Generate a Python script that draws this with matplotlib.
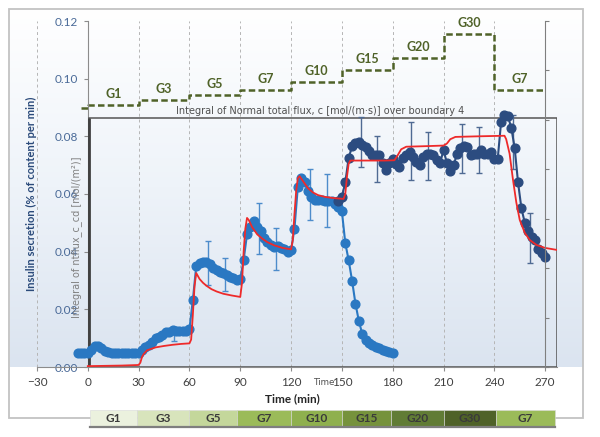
import numpy as np
import matplotlib.pyplot as plt
from matplotlib.patches import Rectangle
from matplotlib.colors import LinearSegmentedColormap

plt.rcParams['font.family'] = ['Lato', 'DejaVu Sans']

# light blue perifusion trace (sampled every 2 min)
t_light = np.arange(-6, 181, 2)
v_light = [
    0.0050, 0.0050, 0.0048, 0.0048,
    0.0060, 0.0072, 0.0073, 0.0065, 0.0057, 0.0052, 0.0050, 0.0050, 0.0050,
    0.0050, 0.0050, 0.0050, 0.0050, 0.0050, 0.0050,
    0.0058, 0.0068, 0.0075, 0.0088, 0.0100, 0.0105, 0.0112, 0.0120, 0.0122,
    0.0128, 0.0125, 0.0125, 0.0125, 0.0125, 0.0132,
    0.0232, 0.0350, 0.0362, 0.0365, 0.0365, 0.0358, 0.0345, 0.0335, 0.0330,
    0.0325, 0.0320, 0.0312, 0.0308, 0.0303, 0.0305,
    0.0372, 0.0460, 0.0485, 0.0505, 0.0485, 0.0470, 0.0448, 0.0432, 0.0422,
    0.0417, 0.0418, 0.0412, 0.0410, 0.0400, 0.0405,
    0.0480, 0.0625, 0.0655, 0.0640, 0.0610, 0.0590, 0.0580, 0.0578, 0.0578,
    0.0576, 0.0576, 0.0575, 0.0565, 0.0555, 0.0540,
    0.0430, 0.0370, 0.0300, 0.0220, 0.0160, 0.0115, 0.0095, 0.0082, 0.0075,
    0.0070, 0.0065, 0.0060, 0.0055, 0.0052, 0.0050,
]
err_light_t = [51, 71, 81, 101, 111, 131, 141]
err_light_v = [0.0115, 0.0360, 0.0321, 0.0480, 0.0409, 0.0598, 0.0578]
err_light_e = [0.0025, 0.0077, 0.0057, 0.0088, 0.0073, 0.0088, 0.0092]

# dark navy trace
t_dark = np.arange(148, 271, 2)
v_dark = [
    0.0575, 0.0590,
    0.0640, 0.0725, 0.0765, 0.0778, 0.0782, 0.0770, 0.0762, 0.0748, 0.0735,
    0.0735, 0.0736, 0.0708, 0.0684, 0.0708, 0.0722,
    0.0705, 0.0694, 0.0725, 0.0735, 0.0747, 0.0730, 0.0712, 0.0700, 0.0730,
    0.0740, 0.0738, 0.0736, 0.0718, 0.0708, 0.0752,
    0.0708, 0.0680, 0.0700, 0.0740, 0.0758, 0.0765, 0.0762, 0.0736, 0.0738,
    0.0740, 0.0752, 0.0738, 0.0740, 0.0747, 0.0720,
    0.0722, 0.0850, 0.0875, 0.0870, 0.0830, 0.0760, 0.0640, 0.0550, 0.0500,
    0.0470, 0.0450, 0.0440, 0.0410, 0.0395, 0.0380,
]
err_dark_t = [161, 171, 191, 201, 221, 231, 251, 261]
err_dark_v = [0.0780, 0.0720, 0.0750, 0.0733, 0.0758, 0.0753, 0.0780, 0.0447]
err_dark_e = [0.0087, 0.0080, 0.0100, 0.0083, 0.0085, 0.0080, 0.0095, 0.0087]

# model (red)
t_model = [0, 10, 20, 30, 31, 32, 33, 35, 40, 45, 50, 55, 60,
           61, 62, 63, 64, 66, 68, 70, 73, 76, 80, 85, 90,
           91, 92, 93, 94, 95, 97, 100, 103, 106, 110, 115, 120,
           121, 122, 123, 124, 125, 127, 130, 133, 136, 140, 145, 151,
           152, 153, 154, 155, 165, 175, 181, 183, 185, 188, 200, 210,
           212, 214, 217, 230, 246, 247, 249, 251, 253, 255, 258, 261,
           265, 270, 277]
v_model = [0.0003, 0.0004, 0.0005, 0.0007, 0.0015, 0.0035, 0.0045, 0.0058,
           0.0068, 0.0073, 0.0077, 0.0080, 0.0082,
           0.0095, 0.0180, 0.0280, 0.0326, 0.0305, 0.0292, 0.0282, 0.0270,
           0.0262, 0.0254, 0.0248, 0.0243,
           0.0290, 0.0400, 0.0480, 0.0517, 0.0510, 0.0485, 0.0460, 0.0445,
           0.0433, 0.0422, 0.0413, 0.0408,
           0.0440, 0.0530, 0.0610, 0.0655, 0.0662, 0.0645, 0.0620, 0.0605,
           0.0596, 0.0590, 0.0586, 0.0583,
           0.0600, 0.0660, 0.0705, 0.0716, 0.0716, 0.0716, 0.0717, 0.0735,
           0.0755, 0.0764, 0.0766, 0.0768,
           0.0775, 0.0790, 0.0798, 0.0800, 0.0802, 0.0790, 0.0740, 0.0650,
           0.0570, 0.0510, 0.0465, 0.0440,
           0.0423, 0.0413, 0.0406]

# glucose protocol (dashed step line)
step_t = [-4, 0, 30, 60, 90, 120, 150, 180, 210, 240, 270]
step_v = [0.0899, 0.0908, 0.0926, 0.0942, 0.0961, 0.0987, 0.1029, 0.1071,
          0.1156, 0.0961, 0.0961]
step_labels = ['G1', 'G3', 'G5', 'G7', 'G10', 'G15', 'G20', 'G30', 'G7']

# bottom colour bar
bar_labels = ['G1', 'G3', 'G5', 'G7', 'G10', 'G15', 'G20', 'G30', 'G7']
bar_edges = [1, 29, 60, 88, 120, 150, 179, 210, 241, 276]
bar_colors = ['#ebf1de', '#d8e4bc', '#c4d79b', '#9bbb59', '#8fb04e',
              '#76923c', '#617c35', '#4f6228', '#9bbb59']

W, H = 600, 437
fig = plt.figure(figsize=(W / 100, H / 100), dpi=100)

# gradient background + frame
bg = fig.add_axes([10 / W, (H - 367) / H, 573 / W, (367 - 9) / H], zorder=-2)
cmap = LinearSegmentedColormap.from_list('bg', ['#ffffff', '#eef3f9', '#dbe4f0'])
bg.imshow(np.linspace(0, 1, 256)[:, None], aspect='auto', cmap=cmap,
          extent=[0, 1, 0, 1], origin='upper')
bg.axis('off')
fig.add_artist(Rectangle((9 / W, (H - 418) / H), 574 / W, 409 / H,
                         transform=fig.transFigure, fill=False,
                         ec='#c3c3c3', lw=1.3, zorder=-1))

ax = fig.add_axes([37 / W, 70 / H, 520 / W, 346 / H])
ax.set_facecolor('none')
ax.set_xlim(-30, 277)
ax.set_ylim(0, 0.12)

ax.set_xticks(range(-30, 271, 30))
ax.set_yticks([0, 0.02, 0.04, 0.06, 0.08, 0.10, 0.12])
ax.set_yticklabels(['%.2f' % v for v in ax.get_yticks()])
ax.grid(axis='x', ls=(0, (3, 3)), color='#b5b5b5', lw=0.7)
ax.set_axisbelow(True)

for s in ['top', 'right']:
    ax.spines[s].set_visible(False)
ax.spines['left'].set_position(('data', 0))
ax.spines['left'].set_color('#8c8c8c')
ax.spines['bottom'].set_color('#8c8c8c')
ax.spines['bottom'].set_bounds(-30, 277)
ax.tick_params(axis='x', colors='#8c8c8c', labelcolor='#404040',
               labelsize=8.5, length=3, pad=4)
ax.tick_params(axis='y', colors='#8c8c8c', labelcolor='#4a6a98',
               labelsize=8.5, length=3, pad=4)

# right-hand auxiliary axis
ax2 = ax.twinx()
ax2.set_ylim(0, 7)
ax2.set_yticks(range(8))
ax2.set_yticklabels([])
for s in ['top', 'left', 'bottom']:
    ax2.spines[s].set_visible(False)
ax2.spines['right'].set_position(('data', 270))
ax2.spines['right'].set_color('#7f7f7f')
ax2.tick_params(axis='y', colors='#7f7f7f', length=3)

# glucose steps
ax.plot(step_t, step_v, drawstyle='steps-post', color='#4f6228', lw=1.8,
        ls=(0, (2.6, 1.3)), zorder=2)
for i, lab in enumerate(step_labels):
    mid = (step_t[i + 1] + step_t[i + 2]) / 2
    ax.text(mid, step_v[i + 1] + 0.0038, lab, color='#4f6228', fontsize=9,
            fontweight='bold', ha='center', va='center')

# inner model box
box_t0, box_t1, box_top = 0.6, 277, 0.0864
ax.add_patch(Rectangle((box_t0, 0), box_t1 - box_t0, box_top, fill=False,
                       ec='#555555', lw=1.1, zorder=3))
ax.vlines(box_t0, 0, box_top, color='#404040', lw=2, zorder=3)
ax.text(137, box_top + 0.0008,
        'Integral of Normal total flux, c [mol/(m\u00b7s)] over boundary 4',
        family='DejaVu Sans', fontsize=7, color='#505050',
        ha='center', va='bottom')
ax.text(-6.5, 0.045, 'Integral of ntflux_c_cd [mol/(m\u00b2)]',
        family='Liberation Sans Narrow', fontsize=7, color='#808080',
        rotation=90, ha='center', va='center')
ax.text(139, -0.0053, 'Time', family='DejaVu Sans', fontsize=6.3,
        color='#505050', ha='center', va='center', clip_on=False)

# data
c_light, c_dark = '#2a78c2', '#2c4c80'
ax.errorbar(err_light_t, err_light_v, yerr=err_light_e, fmt='none',
            ecolor='#4d8ccb', elinewidth=1, capsize=2.5, zorder=4)
ax.errorbar(err_dark_t, err_dark_v, yerr=err_dark_e, fmt='none',
            ecolor='#4f6a93', elinewidth=1, capsize=2.5, zorder=4)
ax.plot(t_light, v_light, color=c_light, lw=1.5, marker='o', ms=6.3,
        mec=c_light, zorder=5)
ax.plot(t_dark, v_dark, color=c_dark, lw=1.5, marker='o', ms=6.3,
        mec=c_dark, zorder=6)
ax.plot(t_model, v_model, color='#ee2a2a', lw=1.3, zorder=7)

ax.set_ylabel('Insulin secretion (% of content per min)', color='#2a4a7a',
              fontsize=8, fontweight='bold')
ax.yaxis.set_label_coords(0.0, 0.5)
fig.text(292 / W, (H - 399) / H, 'Time (min)', fontsize=8.5,
         fontweight='bold', color='#262626', ha='center', va='center')

# bottom bar
axb = fig.add_axes([37 / W, (H - 427) / H, 520 / W, 17 / H], zorder=1)
axb.set_xlim(-30, 277)
axb.set_ylim(0, 1)
axb.set_facecolor('none')
lefts = bar_edges[:-1]
widths = [b - a for a, b in zip(bar_edges[:-1], bar_edges[1:])]
axb.barh(0.5, widths, left=lefts, height=1, color=bar_colors,
         edgecolor='#d9d9d9', lw=0.4)
for x0, w, lab in zip(lefts, widths, bar_labels):
    axb.text(x0 + w / 2, 0.48, lab, ha='center', va='center', fontsize=8.5,
             fontweight='bold', color='#3a3a3a')
for s in ['top', 'left', 'right']:
    axb.spines[s].set_visible(False)
axb.spines['bottom'].set_bounds(bar_edges[0], bar_edges[-1])
axb.spines['bottom'].set_color('#7f7f7f')
axb.spines['bottom'].set_linewidth(1.6)
axb.set_xticks([])
axb.set_yticks([])

fig.savefig('out.png', dpi=100)
